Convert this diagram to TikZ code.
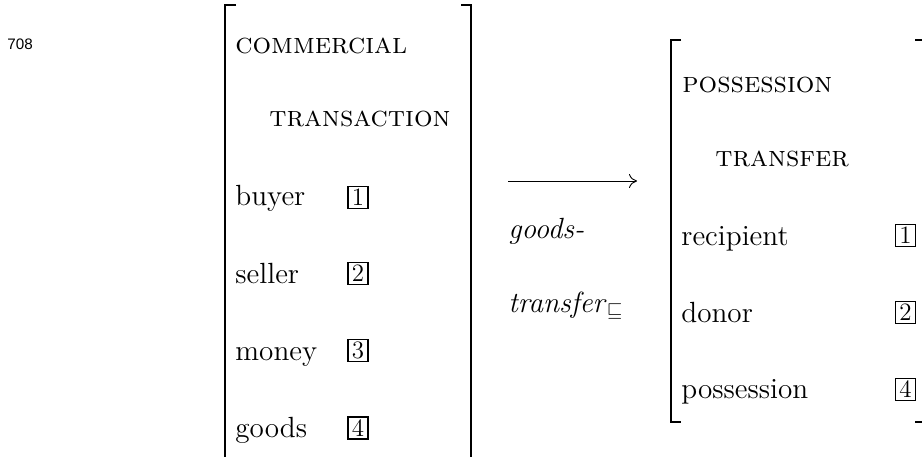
\documentclass[tikz,border=0pt]{standalone}
\usepackage{fontspec}
\newfontfamily\labelfont{Liberation Sans}
\usetikzlibrary{arrows.meta}
\newcommand\mainsize{\fontsize{14.6pt}{17pt}\selectfont}
\newcommand\boxsize{\fontsize{12.5pt}{14pt}\selectfont}
\tikzset{
  txt/.style={anchor=base west, inner sep=0pt, font=\mainsize},
  tagbox/.style={draw, line width=0.9pt, minimum width=10pt, minimum height=11pt, inner sep=0pt, font=\boxsize},
  brk/.style={line width=1.1pt},
  arr/.style={line width=0.45pt, -{Computer Modern Rightarrow[length=4pt,width=7pt]}}
}
\begin{document}
\begin{tikzpicture}[x=0.5pt,y=-0.5pt]
\useasboundingbox (0,0) rectangle (922,456);
% number label
\node[anchor=base west, inner sep=0pt, font=\labelfont\fontsize{7.6pt}{9pt}\selectfont] (num) at (7,49) {708};
% left matrix brackets
\coordinate (LtopL) at (225,5);
\coordinate (LtopR) at (471,5);
\draw[brk] ([xshift=5.5pt]LtopL) -- (LtopL) -- (225,480);
\draw[brk] ([xshift=-5pt]LtopR) -- (LtopR) -- (471,480);
% left matrix content
\node[txt] (ct1) at (235,53) {\textsc{commercial}};
\node[txt] (ct2) at (269,126) {\textsc{transaction}};
\node[txt] (buyer) at (235,205) {buyer};
\node[txt] (seller) at (235,283) {seller};
\node[txt] (money) at (235,360) {money};
\node[txt] (goods) at (235,437) {goods};
\node[tagbox] (b1) at (358,197.5) {1};
\node[tagbox] (b2) at (358,273.5) {2};
\node[tagbox] (b3) at (358,350.5) {3};
\node[tagbox] (b4) at (358,428) {4};
% arrow and label
\coordinate (arrS) at (508,181);
\coordinate (arrE) at (637,181);
\draw[arr] (arrS) -- (arrE);
\node[txt] (lab1) at (508,238) {\textit{goods-}};
\node[txt] (lab2) at (508,312) {\textit{transfer}$_{\sqsubseteq}$};
% right matrix brackets
\coordinate (RtopL) at (671,40);
\coordinate (RbotL) at (671,422);
\coordinate (RtopR) at (925,40);
\coordinate (RbotR) at (925,422);
\draw[brk] ([xshift=5pt]RtopL) -- (RtopL) -- (RbotL) -- ([xshift=5pt]RbotL);
\draw[brk] ([xshift=-5pt]RtopR) -- (RtopR) -- (RbotR) -- ([xshift=-5pt]RbotR);
% right matrix content
\node[txt] (pt1) at (682,92) {\textsc{possession}};
\node[txt] (pt2) at (715,166) {\textsc{transfer}};
\node[txt] (recip) at (681,245) {recipient};
\node[txt] (donor) at (681,322) {donor};
\node[txt] (poss) at (681,398) {possession};
\node[tagbox] (r1) at (905.5,235.5) {1};
\node[tagbox] (r2) at (905.5,312.5) {2};
\node[tagbox] (r4) at (905.5,389.5) {4};
\end{tikzpicture}
\end{document}
